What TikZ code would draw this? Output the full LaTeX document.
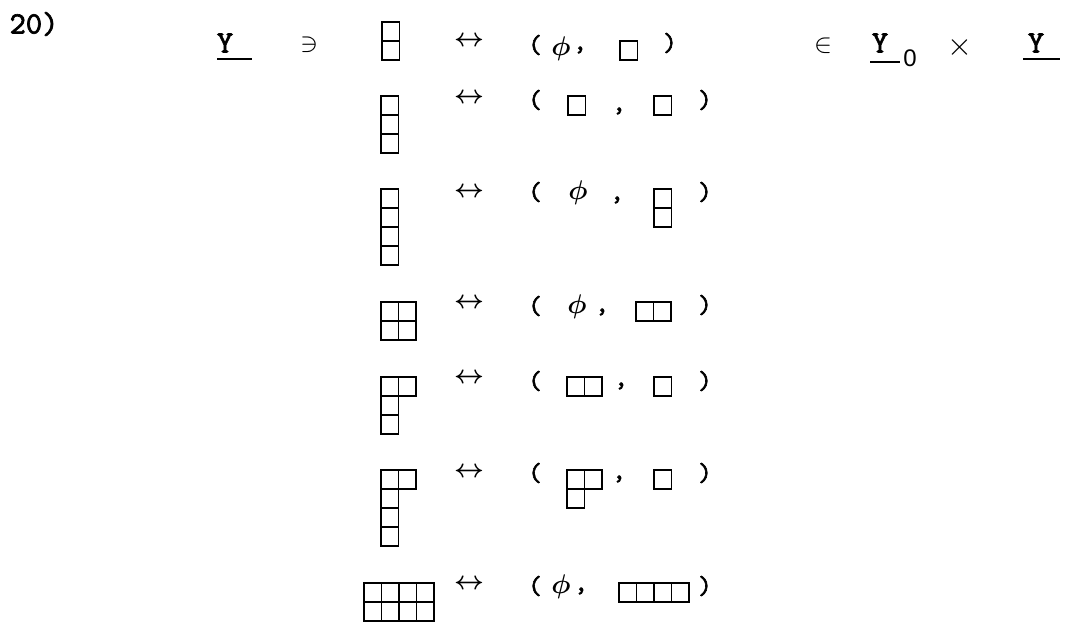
\documentclass[tikz,border=0pt]{standalone}
\usepackage{fontspec}
\usepackage{bm}
\newfontfamily\sfzero{Liberation Sans}
\newfontfamily\twfont{Latin Modern Mono}[FakeBold=2.2]
\newcommand{\ydiag}[3]{%
  \foreach \len [count=\r from 0] in {#3}{%
    \foreach \c in {1,...,\len}{%
      \draw[cell] ({#1+(\c-1)*17.5},{#2+\r*19}) rectangle ++(17.5,19);
    }%
  }%
}
\tikzset{
  cell/.style={line width=1.9pt},
  lbl/.style={inner sep=0pt, font=\twfont, scale=3.1},
  par/.style={inner sep=0pt, font=\twfont, scale=2.6},
  arr/.style={inner sep=0pt, scale=2.6},
  phisym/.style={inner sep=0pt, scale=2.7},
  rel/.style={inner sep=0pt, scale=2.7},
  uline/.style={line width=1.6pt}
}
\begin{document}
\begin{tikzpicture}[x=1pt,y=-1pt]
\useasboundingbox (0,0) rectangle (1068,622);
% header
\node[lbl] (num) at (34,24) {20)};
\node[lbl] (Y1) at (225,43) {Y};
\coordinate (u1a) at (217,59); \coordinate (u1b) at (252,59);
\draw[uline] (u1a) -- (u1b);
\node[rel] (ni) at (309,45) {$\ni$};
\node[rel] (in) at (823,46) {$\in$};
\node[lbl] (Y0) at (880,43) {Y};
\node[inner sep=0pt, font=\sfzero, scale=2.4] (zero) at (910,58) {0};
\coordinate (u2a) at (870,62); \coordinate (u2b) at (900,62);
\draw[uline] (u2a) -- (u2b);
\node[inner sep=0pt, scale=3.2] (times) at (960,47) {$\times$};
\node[lbl] (Y2) at (1036,43) {Y};
\coordinate (u3a) at (1023,59); \coordinate (u3b) at (1060,59);
\draw[uline] (u3a) -- (u3b);

% arrows
\foreach \yy/\nm in {41/a1,98/a2,192/a3,303/a4,378/a5,472/a6,584/a7}
  \node[arr] (\nm) at (469,\yy) {$\bm{\leftrightarrow}$};

% parentheses
\foreach \yy/\nm in {45/1,100/2,192/3,306/4,381/5,473/6,586/7}
  \node[par] (lp\nm) at (535,\yy) {(};
\node[par] (rp1) at (670,43) {)};
\foreach \yy/\nm in {100/2,192/3,305/4,381/5,473/6,586/7}
  \node[par] (rp\nm) at (705,\yy) {)};

% phi
\node[phisym] (phi1) at (561,49) {$\bm{\phi}$};
\node[phisym] (phi3) at (578,193) {$\bm{\phi}$};
\node[phisym] (phi4) at (577,307) {$\bm{\phi}$};
\node[phisym] (phi7) at (561,587) {$\bm{\phi}$};

% commas
\foreach \xx/\yy/\nm in {580/50/1,619/111/2,617/200/3,602/312/4,621/386/5,619/479/6,581/591/7}
  \node[par] (cm\nm) at (\xx,\yy) {,};

% left diagrams
\ydiag{382}{22}{1,1}
\ydiag{381}{96}{1,1,1}
\ydiag{381}{189}{1,1,1,1}
\ydiag{381}{302}{2,2}
\ydiag{381}{377}{2,1,1}
\ydiag{381}{470}{2,1,1,1}
\ydiag{364}{583}{4,4}

% right diagrams
\ydiag{620}{41}{1}
\ydiag{568}{96}{1}
\ydiag{654}{96}{1}
\ydiag{654}{189}{1,1}
\ydiag{636}{302}{2}
\ydiag{567}{377}{2}
\ydiag{654}{377}{1}
\ydiag{567}{470}{2,1}
\ydiag{654}{470}{1}
\ydiag{619}{583}{4}
\end{tikzpicture}
\end{document}
